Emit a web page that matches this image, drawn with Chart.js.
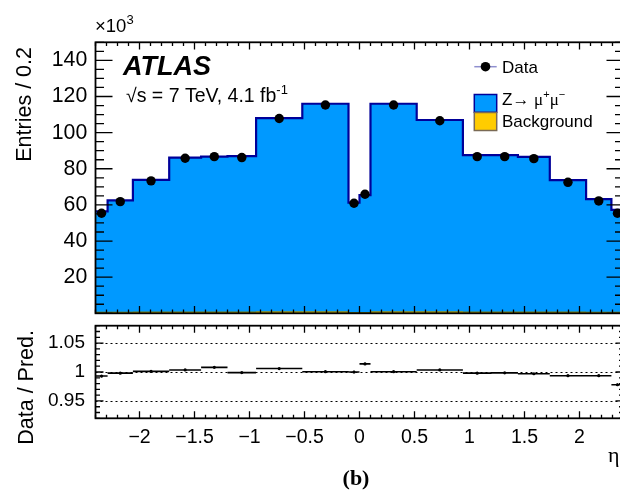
<!DOCTYPE html>
<html>
<head>
<meta charset="utf-8">
<script src="https://cdn.jsdelivr.net/npm/chart.js@4.4.1/dist/chart.umd.min.js"></script>
<style>
html,body{margin:0;padding:0;background:#fff;overflow:hidden;width:620px;height:490px;}
#wrap{position:relative;width:620px;height:490px;overflow:hidden;background:#fff;}
canvas{position:absolute;left:0;}
#c1{top:0;}
#c2{top:320px;}
</style>
</head>
<body>
<div id="wrap">
<canvas id="c1" width="640" height="320"></canvas>
<canvas id="c2" width="640" height="170"></canvas>
</div>
<script>
// ---- data (counts in units of 10^3) ----
const binEdges = [-2.4, -2.29, -2.06, -1.73, -1.44, -1.2, -0.94, -0.52, -0.1, 0, 0.1, 0.52, 0.94, 1.2, 1.44, 1.73, 2.06, 2.29, 2.4];
const dataValues = [55.4, 61.8, 73.3, 85.8, 86.7, 86.2, 107.8, 115.3, 60.9, 65.9, 115.3, 106.6, 86.7, 86.7, 85.6, 72.5, 62.2, 55.4];
const zmumuValues = [55.8, 61.9, 73.2, 85.5, 86.0, 86.3, 107.2, 115.2, 60.9, 65.0, 115.2, 106.2, 86.9, 86.8, 85.9, 73.0, 62.6, 56.6];
const backgroundValues = [0.6, 0.6, 0.7, 0.7, 0.7, 0.7, 0.8, 0.8, 0.4, 0.4, 0.8, 0.8, 0.7, 0.7, 0.7, 0.7, 0.6, 0.6];
const ratioValues = [0.993, 0.998, 1.001, 1.0035, 1.008, 0.999, 1.006, 1.0005, 1.000, 1.014, 1.0005, 1.0035, 0.998, 0.9985, 0.997, 0.9936, 0.9936, 0.978];
const ratioErrors = [0.002, 0.0015, 0.0012, 0.0012, 0.0013, 0.0013, 0.001, 0.001, 0.002, 0.002, 0.001, 0.001, 0.0013, 0.0013, 0.0012, 0.0012, 0.0015, 0.002];
const xTickValues = [-2, -1.5, -1, -0.5, 0, 0.5, 1, 1.5, 2];
const yTickValues = [20, 40, 60, 80, 100, 120, 140];
const ratioTickValues = [0.95, 1, 1.05];
const X_MIN = -2.4, X_MAX = 2.4, Y_MAX = 150, R_MIN = 0.92, R_MAX = 1.08;

// ---- helpers ----
const SANS = '"Liberation Sans", Arial, Helvetica, sans-serif';
const SERIF = '"Liberation Serif", "Times New Roman", serif';
Chart.defaults.font.family = SANS;
Chart.defaults.color = '#000';

const centers = binEdges.slice(0, -1).map((e, i) => (e + binEdges[i + 1]) / 2);
const histPoints = vals => binEdges.map((e, i) => ({x: e, y: vals[Math.min(i, vals.length - 1)]}));
const fmtMinus = v => (v < 0 ? '\u2212' + String(Math.abs(v)) : String(v));
const noPad = s => { s.paddingTop = 0; s.paddingBottom = 0; s.paddingLeft = 0; s.paddingRight = 0; };

function drawRich(ctx, x, y, parts) {
  let cx = x;
  for (const [t, f, dy] of parts) {
    ctx.font = f;
    ctx.fillText(t, cx, y + (dy || 0));
    cx += ctx.measureText(t).width;
  }
}

// ---- top panel decorations ----
const topDeco = {
  id: 'topDeco',
  afterDraw(chart) {
    const {ctx, chartArea: a} = chart;
    const xs = chart.scales.x, ys = chart.scales.y;
    ctx.save();
    ctx.strokeStyle = '#000';
    ctx.lineWidth = 1.3;
    ctx.beginPath();
    for (let k = -24; k <= 24; k++) {
      const px = xs.getPixelForValue(k / 10);
      const len = (k % 5 === 0) ? 7.3 : 3.7;
      ctx.moveTo(px, a.bottom); ctx.lineTo(px, a.bottom - len);
      ctx.moveTo(px, a.top); ctx.lineTo(px, a.top + len);
    }
    for (let v = 0; v <= Y_MAX; v += 5) {
      const py = ys.getPixelForValue(v);
      const len = (v % 20 === 0) ? 17 : 8.5;
      ctx.moveTo(a.left, py); ctx.lineTo(a.left + len, py);
      ctx.moveTo(a.right, py); ctx.lineTo(a.right - len, py);
    }
    ctx.stroke();
    ctx.lineWidth = 1.8;
    ctx.strokeRect(a.left, a.top, a.right - a.left, a.bottom - a.top);

    ctx.fillStyle = '#000';
    ctx.textAlign = 'left';
    ctx.textBaseline = 'alphabetic';
    drawRich(ctx, 95, 31.5, [['\u00d710', '18.5px ' + SANS, 0], ['3', '13px ' + SANS, -8]]);
    ctx.save();
    ctx.translate(31, 47);
    ctx.rotate(-Math.PI / 2);
    ctx.textAlign = 'right';
    ctx.font = '21.5px ' + SANS;
    ctx.fillText('Entries / 0.2', 0, 0);
    ctx.restore();
    ctx.font = 'italic bold 27px ' + SANS;
    ctx.fillText('ATLAS', 123, 75);
    drawRich(ctx, 126, 101.7, [['\u221As = 7 TeV, 4.1 fb', '19.5px ' + SANS, 0], ['-1', '13px ' + SANS, -8]]);

    // legend
    const lx0 = 474.3, lx1 = 496.7, tx = 502;
    ctx.strokeStyle = '#8f8fcf';
    ctx.lineWidth = 1.5;
    ctx.beginPath(); ctx.moveTo(lx0, 66.7); ctx.lineTo(lx1, 66.7); ctx.stroke();
    ctx.beginPath(); ctx.arc((lx0 + lx1) / 2, 66.7, 4.8, 0, Math.PI * 2); ctx.fillStyle = '#000'; ctx.fill();
    ctx.font = '17px ' + SANS;
    ctx.fillText('Data', tx, 72.5);

    ctx.fillStyle = '#0099ff';
    ctx.fillRect(lx0, 94.5, lx1 - lx0, 17.8);
    ctx.strokeStyle = '#000099'; ctx.lineWidth = 1.5;
    ctx.strokeRect(lx0, 94.5, lx1 - lx0, 17.8);
    ctx.fillStyle = '#000';
    drawRich(ctx, tx, 104.5, [['Z\u2192 ', '17px ' + SANS, 0], ['\u03bc', '17px ' + SERIF, 0], ['+', '11px ' + SANS, -7], ['\u03bc', '17px ' + SERIF, 0], ['\u2212', '11px ' + SANS, -7]]);

    ctx.fillStyle = '#ffcc00';
    ctx.fillRect(lx0, 112.5, lx1 - lx0, 18);
    ctx.strokeStyle = '#7a6a55'; ctx.lineWidth = 1.5;
    ctx.strokeRect(lx0, 112.5, lx1 - lx0, 18);
    ctx.fillStyle = '#000';
    ctx.font = '17px ' + SANS;
    ctx.fillText('Background', tx, 127);
    ctx.restore();
  }
};

// ---- ratio panel decorations ----
const ratioDeco = {
  id: 'ratioDeco',
  beforeDatasetsDraw(chart) {
    const {ctx, chartArea: a} = chart;
    const ys = chart.scales.y;
    ctx.save();
    ctx.strokeStyle = '#000';
    ctx.lineWidth = 1;
    ctx.setLineDash([2, 3]);
    ctx.beginPath();
    for (const v of ratioTickValues) {
      const py = Math.round(ys.getPixelForValue(v)) + 0.5;
      ctx.moveTo(a.left, py); ctx.lineTo(a.right, py);
    }
    ctx.stroke();
    ctx.restore();
  },
  afterDatasetsDraw(chart) {
    const {ctx} = chart;
    const xs = chart.scales.x, ys = chart.scales.y;
    ctx.save();
    ctx.strokeStyle = '#000';
    ctx.lineWidth = 1.6;
    ctx.beginPath();
    ratioValues.forEach((r, i) => {
      const py = ys.getPixelForValue(r);
      ctx.moveTo(xs.getPixelForValue(binEdges[i]), py);
      ctx.lineTo(xs.getPixelForValue(binEdges[i + 1]), py);
      const pc = xs.getPixelForValue(centers[i]);
      ctx.moveTo(pc, ys.getPixelForValue(r - ratioErrors[i]));
      ctx.lineTo(pc, ys.getPixelForValue(r + ratioErrors[i]));
    });
    ctx.stroke();
    ctx.restore();
  },
  afterDraw(chart) {
    const {ctx, chartArea: a} = chart;
    const xs = chart.scales.x, ys = chart.scales.y;
    ctx.save();
    ctx.strokeStyle = '#000';
    ctx.lineWidth = 1.3;
    ctx.beginPath();
    for (let k = -24; k <= 24; k++) {
      const px = xs.getPixelForValue(k / 10);
      const len = (k % 5 === 0) ? 7 : 3.5;
      ctx.moveTo(px, a.bottom); ctx.lineTo(px, a.bottom - len);
      ctx.moveTo(px, a.top); ctx.lineTo(px, a.top + len);
    }
    for (let k = 92; k <= 108; k++) {
      const py = ys.getPixelForValue(k / 100);
      const len = (k % 5 === 0) ? 8 : 4.5;
      ctx.moveTo(a.left, py); ctx.lineTo(a.left + len, py);
      ctx.moveTo(a.right, py); ctx.lineTo(a.right - len, py);
    }
    ctx.stroke();
    ctx.lineWidth = 1.8;
    ctx.strokeRect(a.left, a.top, a.right - a.left, a.bottom - a.top);

    ctx.fillStyle = '#000';
    ctx.textBaseline = 'alphabetic';
    ctx.save();
    ctx.translate(32.5, 10);
    ctx.rotate(-Math.PI / 2);
    ctx.textAlign = 'right';
    ctx.font = '21.5px ' + SANS;
    ctx.fillText('Data / Pred.', 0, 0);
    ctx.restore();

    ctx.textAlign = 'left';
    ctx.font = '22px ' + SERIF;
    ctx.fillText('\u03b7', 608, 142);
    ctx.textAlign = 'center';
    ctx.font = 'bold 22px ' + SERIF;
    ctx.fillText('(b)', 356, 164.5);
    ctx.restore();
  }
};

// ---- top panel chart ----
// dataset order: background (stack bottom), Z (stacked on background), data points (own stack, drawn on top)
new Chart(document.getElementById('c1'), {
  type: 'line',
  data: {
    datasets: [
      {
        label: 'Background', stack: 'mc',
        data: histPoints(backgroundValues),
        stepped: 'before', fill: 'origin', backgroundColor: '#ffcc00', borderColor: '#7a7a00', borderWidth: 1,
        pointRadius: 0, tension: 0
      },
      {
        label: 'Z\u2192\u03bc\u207a\u03bc\u207b', stack: 'mc',
        data: histPoints(zmumuValues),
        stepped: 'before', fill: '-1', backgroundColor: '#0099ff', borderColor: '#000099', borderWidth: 2.2,
        pointRadius: 0, tension: 0
      },
      {
        label: 'Data', stack: 'data', order: -1,
        data: centers.map((c, i) => ({x: c, y: dataValues[i]})),
        showLine: false, fill: false, pointRadius: 4.7, pointBackgroundColor: '#000', pointBorderWidth: 0, pointStyle: 'circle'
      }
    ]
  },
  options: {
    responsive: false, animation: false, events: [],
    layout: {padding: {left: 0, top: 42.3, right: 16.5, bottom: 6.7}},
    plugins: {legend: {display: false}, tooltip: {enabled: false}},
    scales: {
      x: {type: 'linear', min: X_MIN, max: X_MAX, display: false},
      y: {
        type: 'linear', min: 0, max: Y_MAX, stacked: true,
        grid: {display: false, drawTicks: false}, border: {display: false},
        afterBuildTicks: s => { s.ticks = yTickValues.map(v => ({value: v})); },
        afterFit: s => { s.width = 95.5; noPad(s); },
        ticks: {padding: 8.2, font: {size: 21.3}, color: '#000', callback: v => String(v)}
      }
    }
  },
  plugins: [topDeco]
});

// ---- ratio panel chart ----
new Chart(document.getElementById('c2'), {
  type: 'line',
  data: {
    datasets: [{
      label: 'Data / Pred.',
      data: centers.map((c, i) => ({x: c, y: ratioValues[i]})),
      showLine: false, pointRadius: 1.6, pointBackgroundColor: '#000', pointBorderWidth: 0
    }]
  },
  options: {
    responsive: false, animation: false, events: [],
    layout: {padding: {left: 0, top: 5.7, right: 16.5, bottom: 21.7}},
    plugins: {legend: {display: false}, tooltip: {enabled: false}},
    scales: {
      x: {
        type: 'linear', min: X_MIN, max: X_MAX,
        grid: {display: false, drawTicks: false}, border: {display: false},
        afterBuildTicks: s => { s.ticks = xTickValues.map(v => ({value: v})); },
        afterFit: s => { s.height = 50; noPad(s); },
        ticks: {padding: 7.5, font: {size: 19.5}, color: '#000', maxRotation: 0, autoSkip: false, callback: v => fmtMinus(v)}
      },
      y: {
        type: 'linear', min: R_MIN, max: R_MAX,
        grid: {display: false, drawTicks: false}, border: {display: false},
        afterBuildTicks: s => { s.ticks = ratioTickValues.map(v => ({value: v})); },
        afterFit: s => { s.width = 95.5; noPad(s); },
        ticks: {padding: 10.5, font: {size: 19}, color: '#000', callback: v => (v === 1 ? '1' : v.toFixed(2))}
      }
    }
  },
  plugins: [ratioDeco]
});
</script>
</body>
</html>
